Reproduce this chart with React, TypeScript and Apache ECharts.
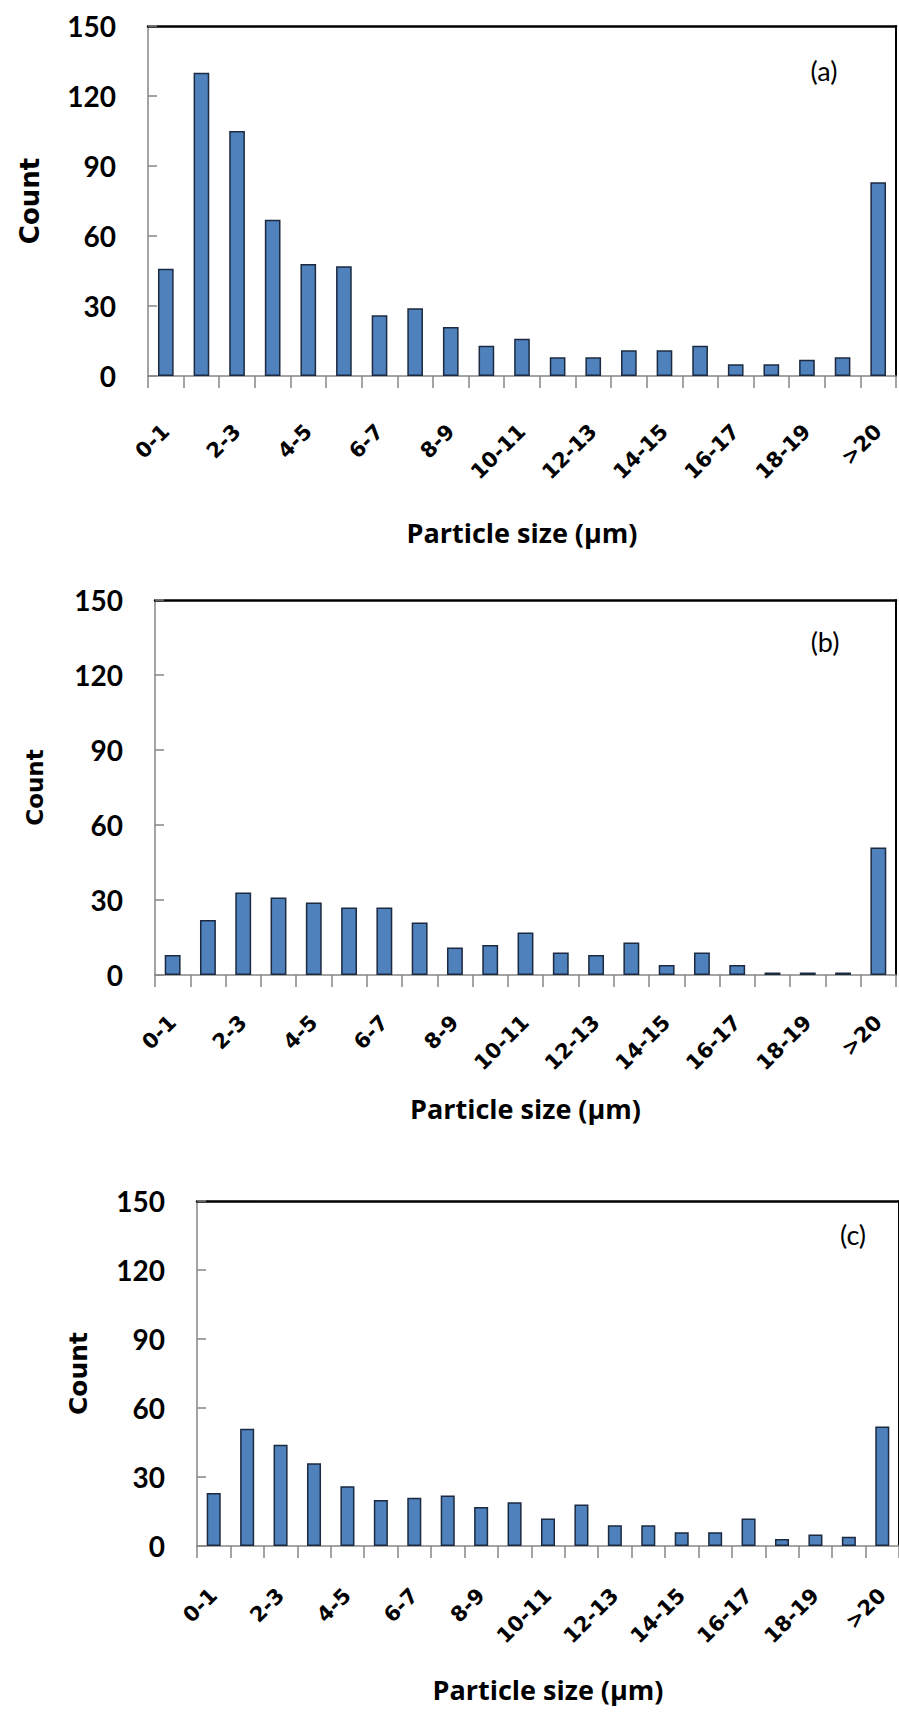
import React, { useEffect, useRef } from 'react';
import * as echarts from 'echarts';

const categories = ['0-1', '1-2', '2-3', '3-4', '4-5', '5-6', '6-7', '7-8', '8-9', '9-10', '10-11', '11-12', '12-13', '13-14', '14-15', '15-16', '16-17', '17-18', '18-19', '19-20', '>20'];
const countsA = [46, 130, 105, 67, 48, 47, 26, 29, 21, 13, 16, 8, 8, 11, 11, 13, 5, 5, 7, 8, 83];
const countsB = [8, 22, 33, 31, 29, 27, 27, 21, 11, 12, 17, 9, 8, 13, 4, 9, 4, 1, 1, 1, 51];
const countsC = [23, 51, 44, 36, 26, 20, 21, 22, 17, 19, 12, 18, 9, 9, 6, 6, 12, 3, 5, 4, 52];
const yMin = 0;
const yMax = 150;
const yStep = 30;
const panelTags = ['(a)', '(b)', '(c)'];
const xTitle = 'Particle size (µm)';
const yTitle = 'Count';

const AXIS_GREY = '#868686';

export default function App() {
  const ref = useRef<HTMLDivElement>(null);
  useEffect(() => {
    if (!ref.current) return;
    const chart = echarts.init(ref.current, null, { renderer: 'svg' });
    const panels = [
      { data: countsA, left: 148, top: 26, width: 748, height: 350, labelMargin: 52, nameGap: 143, countGap: 105, countSize: 26, tagX: 824, tagY: 70, barWidth: '44%' },
      { data: countsB, left: 155, top: 600, width: 741, height: 375, labelMargin: 44, nameGap: 120, countGap: 109, countSize: 23, tagX: 825, tagY: 641, barWidth: '45%' },
      { data: countsC, left: 197, top: 1201, width: 710, height: 345, labelMargin: 46, nameGap: 130, countGap: 106, countSize: 25, tagX: 853, tagY: 1234, barWidth: '42%' },
    ];
    const grid: any[] = [];
    const xAxis: any[] = [];
    const yAxis: any[] = [];
    const series: any[] = [];
    const graphic: any[] = [];
    panels.forEach((p, i) => {
      grid.push({ left: p.left, top: p.top, width: p.width, height: p.height, containLabel: false });
      xAxis.push({
        type: 'category',
        gridIndex: i,
        data: categories,
        position: 'bottom',
        axisLine: { show: true, onZero: false, lineStyle: { color: AXIS_GREY, width: 1.5 } },
        axisTick: { show: true, interval: 0, length: 12, lineStyle: { color: AXIS_GREY, width: 1.5 } },
        axisLabel: {
          interval: 1,
          rotate: 45,
          margin: p.labelMargin,
          fontFamily: 'DejaVu Sans',
          fontWeight: 'bold',
          fontSize: 21,
          color: '#000',
        },
        name: xTitle,
        nameLocation: 'middle',
        nameGap: p.nameGap,
        nameTextStyle: { fontFamily: 'Open Sans', fontWeight: 'bold', fontSize: 27, color: '#000' },
      });
      xAxis.push({
        type: 'category',
        gridIndex: i,
        data: categories,
        position: 'top',
        axisLine: { show: true, onZero: false, lineStyle: { color: '#000', width: 2.5 } },
        axisTick: { show: false },
        axisLabel: { show: false },
      });
      yAxis.push({
        type: 'value',
        gridIndex: i,
        min: yMin,
        max: yMax,
        interval: yStep,
        position: 'left',
        axisLine: { show: true, onZero: false, lineStyle: { color: AXIS_GREY, width: 1.5 } },
        axisTick: { show: true, inside: true, length: 9, lineStyle: { color: AXIS_GREY, width: 1.5 } },
        splitLine: { show: false },
        axisLabel: {
          margin: 32,
          fontFamily: 'Lato',
          fontWeight: 'bold',
          fontSize: 28,
          color: '#000',
        },
        name: yTitle,
        nameLocation: 'middle',
        nameRotate: 90,
        nameGap: p.countGap,
        nameTextStyle: { fontFamily: 'DejaVu Sans', fontWeight: 'bold', fontSize: p.countSize, color: '#000' },
      });
      yAxis.push({
        type: 'value',
        gridIndex: i,
        min: yMin,
        max: yMax,
        interval: yStep,
        position: 'right',
        axisLine: { show: true, onZero: false, lineStyle: { color: '#000', width: 2 } },
        axisTick: { show: false },
        axisLabel: { show: false },
        splitLine: { show: false },
      });
      series.push({
        type: 'bar',
        xAxisIndex: i * 2,
        yAxisIndex: i * 2,
        data: p.data,
        barWidth: p.barWidth,
        itemStyle: { color: '#4F81BD', borderColor: '#1b2a40', borderWidth: 1.5 },
      });
      graphic.push({
        type: 'text',
        x: p.tagX,
        y: p.tagY,
        style: {
          text: panelTags[i],
          fontFamily: 'Lato',
          fontSize: 27,
          fill: '#000',
          align: 'center',
          verticalAlign: 'middle',
          textAlign: 'center',
          textVerticalAlign: 'middle',
        },
      });
    });
    chart.setOption({
      animation: false,
      backgroundColor: '#fff',
      grid,
      xAxis,
      yAxis,
      series,
      graphic,
    });
    return () => chart.dispose();
  }, []);
  return <div ref={ref} style={{ position: 'absolute', left: 0, top: 0, width: 899, height: 1713, background: '#fff' }} />;
}
